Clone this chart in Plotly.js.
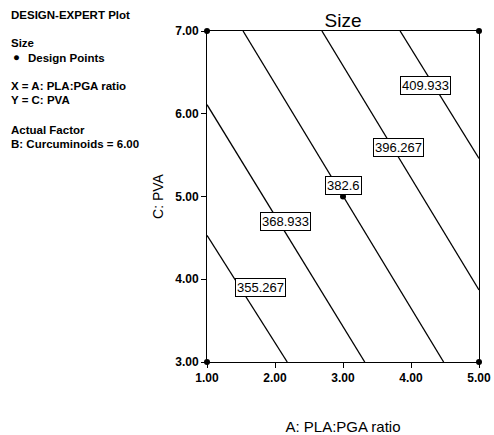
<!DOCTYPE html>
<html>
<head>
<meta charset="utf-8">
<script src="https://cdn.plot.ly/plotly-3.0.1.min.js"></script>
<style>html,body{margin:0;padding:0;background:#fff;}#chart{width:494px;height:435px;}</style>
</head>
<body>
<div id="chart"></div>
<script>
// Contour levels of Size and the end points of each (straight) contour line
const levels = ["355.267", "368.933", "382.6", "396.267", "409.933"];
const lineX = [[1.00, 2.18], [1.00, 3.32], [1.53, 4.48], [2.69, 5.00], [3.84, 5.00]];
const lineY = [[4.53, 3.00], [6.11, 3.00], [7.00, 3.00], [7.00, 3.87], [7.00, 5.46]];
// Where each contour label sits
const labelX = [1.79, 2.15, 3.00, 3.81, 4.22];
const labelY = [3.90, 4.70, 5.13, 5.59, 6.34];
// Design points (A: PLA:PGA ratio, C: PVA)
const pointX = [1, 1, 5, 5, 3];
const pointY = [3, 7, 3, 7, 5];
// Axis ticks
const xTicks = [1, 2, 3, 4, 5];
const yTicks = [3, 4, 5, 6, 7];
// Side notes
const notes = [
  {text: "DESIGN-EXPERT Plot", y: 15},
  {text: "Size", y: 43},
  {text: "\u25CF", y: 57, x: 12},
  {text: "Design Points", y: 58, x: 27},
  {text: "X = A: PLA:PGA ratio", y: 86},
  {text: "Y = C: PVA", y: 100},
  {text: "Actual Factor", y: 130},
  {text: "B: Curcuminoids = 6.00", y: 144}
];

const FONT = "Liberation Sans, Arial, sans-serif";
const L = 207, R = 15, T = 31, B = 73, W = 494, H = 435;
const pw = W - L - R, ph = H - T - B;

const traces = [];
for (let i = 0; i < levels.length; i++) {
  traces.push({
    type: "scatter", mode: "lines", x: lineX[i], y: lineY[i],
    line: {color: "#000", width: 1.3}, hoverinfo: "skip", showlegend: false
  });
}
traces.push({
  type: "scatter", mode: "markers", x: pointX, y: pointY,
  marker: {color: "#000", size: 6}, cliponaxis: false, showlegend: false
});

const annotations = levels.map((t, i) => ({
  x: labelX[i], y: labelY[i], xref: "x", yref: "y", text: t, showarrow: false,
  font: {family: FONT, size: 13, color: "#000"},
  bgcolor: "#fff", bordercolor: "#000", borderwidth: 1, borderpad: 1
}));
notes.forEach(n => {
  annotations.push({
    xref: "paper", yref: "paper",
    x: ((n.x !== undefined ? n.x : 10) - L) / pw, y: (H - B - n.y) / ph,
    xanchor: "left", yanchor: "middle", text: n.text, showarrow: false,
    font: {family: FONT, size: 11.5, color: "#000", weight: "bold"}, borderpad: 0
  });
});

const axisCommon = {
  showgrid: false, zeroline: false, showline: true, mirror: true,
  linecolor: "#000", linewidth: 1, ticks: "outside", ticklen: 5, tickcolor: "#000",
  tickformat: ".2f", tickfont: {family: FONT, size: 12, color: "#000", weight: "bold"}
};

const layout = {
  width: W, height: H, margin: {l: L, r: R, t: T, b: B},
  paper_bgcolor: "#fff", plot_bgcolor: "#fff",
  title: {text: "Size", font: {family: FONT, size: 19, color: "#000"},
          x: 0.5, xref: "paper", y: 1 - 20 / H, yref: "container", yanchor: "middle"},
  xaxis: Object.assign({}, axisCommon, {range: [1, 5], tickvals: xTicks,
          title: {text: "A: PLA:PGA ratio", font: {family: FONT, size: 15, color: "#000"}, standoff: 38}}),
  yaxis: Object.assign({}, axisCommon, {range: [3, 7], tickvals: yTicks,
          title: {text: "C: PVA", font: {family: FONT, size: 14, color: "#000"}, standoff: 8}}),
  annotations: annotations,
  showlegend: false
};

Plotly.newPlot("chart", traces, layout, {displayModeBar: false, staticPlot: true});
</script>
</body>
</html>
